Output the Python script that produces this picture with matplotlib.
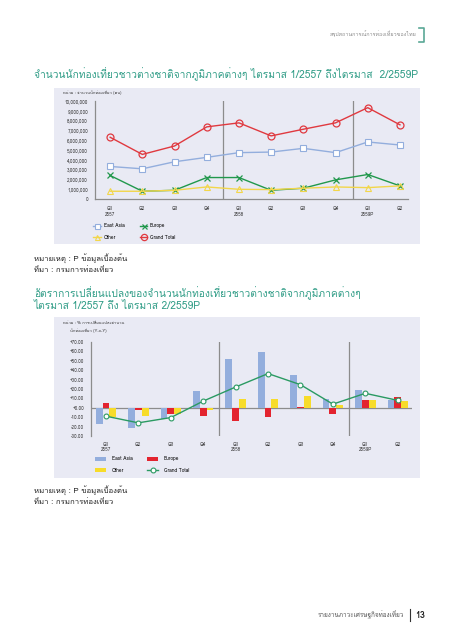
import numpy as np
import matplotlib
matplotlib.use("Agg")
import matplotlib.pyplot as plt
from matplotlib import font_manager as fm
from matplotlib.ft2font import FT2Font
from matplotlib.lines import Line2D
from matplotlib.patches import Rectangle, Patch

# ---------------- data ----------------
quarters = ["Q1\n2557", "Q2", "Q3", "Q4", "Q1\n2558", "Q2", "Q3", "Q4", "Q1\n2559P", "Q2"]
series_names = ["East Asia", "Europe", "Other", "Grand Total"]

# Chart 1: number of foreign tourists (persons)
east_asia = [3320000, 3080000, 3800000, 4250000, 4730000, 4790000, 5170000, 4730000, 5820000, 5510000]
europe = [2400000, 790000, 890000, 2190000, 2190000, 890000, 1100000, 1950000, 2500000, 1340000]
other = [790000, 790000, 890000, 1230000, 990000, 960000, 1100000, 1230000, 1160000, 1340000]
grand_total = [6300000, 4550000, 5410000, 7360000, 7770000, 6440000, 7120000, 7770000, 9320000, 7570000]
y1_ticks = [0, 1000000, 2000000, 3000000, 4000000, 5000000, 6000000, 7000000, 8000000, 9000000, 10000000]

# Chart 2: % change Y-o-Y
ea_pct = [-17.1, -21.4, -11.8, 17.9, 51.8, 59.3, 34.6, 9.3, 18.9, 8.6]
eu_pct = [5.0, -2.5, -6.8, -8.2, -13.9, -9.3, 1.1, -7.1, 8.6, 11.1]
ot_pct = [-10.0, -8.9, -6.4, -2.1, 9.6, 8.9, 12.1, 2.5, 8.6, 6.8]
gt_pct = [-8.9, -16.0, -10.4, 7.1, 22.1, 36.4, 24.6, 3.9, 15.4, 7.9]
y2_ticks = [70, 60, 50, 40, 30, 20, 10, 0, -10, -20, -30]

title1 = "จำนวนนักท่องเที่ยวชาวต่างชาติจากภูมิภาคต่างๆ ไตรมาส 1/2557 ถึงไตรมาส  2/2559P"
title2a = "อัตราการเปลี่ยนแปลงของจำนวนนักท่องเที่ยวชาวต่างชาติจากภูมิภาคต่างๆ"
title2b = "ไตรมาส 1/2557 ถึง ไตรมาส 2/2559P"
unit1 = "หน่วย : จำนวนนักท่องเที่ยว (คน)"
unit2a = "หน่วย : % การเปลี่ยนแปลงจำนวน"
unit2b = "นักท่องเที่ยว (Y-o-Y)"
note1 = "หมายเหตุ : P ข้อมูลเบื้องต้น"
note2 = "ที่มา : กรมการท่องเที่ยว"
header = "สรุปสถานการณ์การท่องเที่ยวของไทย"
footer = "รายงานภาวะเศรษฐกิจท่องเที่ยว"
page_no = "13"

# ---------------- fonts ----------------
def thai_families():
    found = []
    for f in fm.fontManager.ttflist:
        try:
            cmap = FT2Font(f.fname).get_charmap()
        except Exception:
            continue
        if 0x0E01 in cmap and f.name not in found:
            found.append(f.name)
    return found

fams = thai_families() + ["DejaVu Sans"]
plt.rcParams["font.family"] = fams

# ---------------- colors ----------------
PANEL = "#e9eaf4"
TEAL = "#2f9c86"
C_EA = "#93aedd"
C_EU = "#e3242f"
C_OT = "#f7dc2a"
C_GT2 = "#2a9a62"
C_GT1 = "#e0393f"
C_EU1 = "#21984c"
C_OT1 = "#f2d64a"
GRID = "#8c8c8c"

W, H = 453, 640
fig = plt.figure(figsize=(W / 100, H / 100), dpi=100)
fig.patch.set_facecolor("white")

def fx(x):
    return x / W

def fy(y):
    return 1 - y / H

def ax_rect(l, t, r, b):
    return [fx(l), fy(b), (r - l) / W, (b - t) / H]

# panels
fig.add_artist(Rectangle((fx(54), fy(244)), (420 - 54) / W, (244 - 88) / H,
                         transform=fig.transFigure, facecolor=PANEL, edgecolor="none", zorder=0))
fig.add_artist(Rectangle((fx(54), fy(478)), (420 - 54) / W, (478 - 317) / H,
                         transform=fig.transFigure, facecolor=PANEL, edgecolor="none", zorder=0))

# header / footer
fig.text(fx(416), fy(34), header, ha="right", va="center", fontsize=3.9, color="#8a8a8a")
fig.add_artist(Line2D([fx(419), fx(424), fx(424), fx(419)], [fy(28), fy(28), fy(42), fy(42)],
                      transform=fig.transFigure, color="#5aa896", lw=1.2))
fig.text(fx(404), fy(615), footer, ha="right", va="center", fontsize=4.6, color="#555555")
fig.add_artist(Line2D([fx(410), fx(410)], [fy(609), fy(621)], transform=fig.transFigure,
                      color="#333333", lw=0.8))
fig.text(fx(415), fy(615), page_no, ha="left", va="center", fontsize=6.5, fontweight="bold",
         color="#222222")

# titles
fig.text(fx(34), fy(74), title1, ha="left", va="center", fontsize=7.4, color=TEAL)
fig.text(fx(34), fy(293), title2a, ha="left", va="center", fontsize=7.4, color=TEAL)
fig.text(fx(34), fy(306), title2b, ha="left", va="center", fontsize=7.4, color=TEAL)

# units
fig.text(fx(63), fy(93), unit1, ha="left", va="center", fontsize=3.0, color="#333333")
fig.text(fx(63), fy(323), unit2a, ha="left", va="center", fontsize=3.0, color="#333333")
fig.text(fx(70), fy(331), unit2b, ha="left", va="center", fontsize=3.0, color="#333333")

# notes
for y0 in (258, 490):
    fig.text(fx(34), fy(y0), note1, ha="left", va="center", fontsize=5.6, color="#222222")
    fig.text(fx(34), fy(y0 + 12), note2, ha="left", va="center", fontsize=5.6, color="#222222")

x = np.arange(len(quarters))

# ---------------- chart 1 ----------------
ax1 = fig.add_axes(ax_rect(95, 101, 408, 199))
ax1.set_facecolor("none")
l_ea, = ax1.plot(x, east_asia, color=C_EA, lw=1.0, marker="s", ms=4, mfc="white", mec=C_EA,
                 mew=0.8, label=series_names[0])
l_eu, = ax1.plot(x, europe, color=C_EU1, lw=1.0, marker="x", ms=4, mec=C_EU1, mew=0.9,
                 label=series_names[1])
l_ot, = ax1.plot(x, other, color=C_OT1, lw=1.0, marker="^", ms=4, mfc="none", mec=C_OT1,
                 mew=0.8, label=series_names[2])
l_gt, = ax1.plot(x, grand_total, color=C_GT1, lw=1.0, marker="o", ms=5, mfc="none", mec=C_GT1,
                 mew=0.9, label=series_names[3])
for xv in (3.5, 7.55):
    ax1.axvline(xv, color=GRID, lw=0.9, zorder=0)
ax1.set_xlim(-0.47, 9.25)
ax1.set_ylim(0, 10000000)
ax1.set_yticks(y1_ticks)
ax1.set_yticklabels(["{:,}".format(v) if v else "0" for v in y1_ticks])
ax1.set_xticks(x)
ax1.set_xticklabels(quarters)
ax1.tick_params(axis="both", length=0, labelsize=3.3, colors="#333333")
ax1.tick_params(axis="x", pad=5)
ax1.tick_params(axis="y", pad=5)
for s in ("top", "right"):
    ax1.spines[s].set_visible(False)
for s in ("left", "bottom"):
    ax1.spines[s].set_color(GRID)
    ax1.spines[s].set_linewidth(0.9)
leg1 = ax1.legend(handles=[l_ea, l_ot, l_eu, l_gt], ncol=2, loc="upper left",
                  bbox_to_anchor=(fx(89), fy(219)), bbox_transform=fig.transFigure,
                  frameon=False, fontsize=3.5, handlelength=1.5, columnspacing=3.2,
                  labelspacing=1.3, handletextpad=0.6, markerscale=0.9)

# ---------------- chart 2 ----------------
ax2 = fig.add_axes(ax_rect(91, 342, 412, 436))
ax2.set_facecolor("none")
bw = 0.21
b_ea = ax2.bar(x - bw, ea_pct, bw, color=C_EA, label=series_names[0], zorder=2)
b_eu = ax2.bar(x, eu_pct, bw, color=C_EU, label=series_names[1], zorder=2)
b_ot = ax2.bar(x + bw, ot_pct, bw, color=C_OT, label=series_names[2], zorder=2)
l_gt2, = ax2.plot(x, gt_pct, color=C_GT2, lw=1.0, marker="o", ms=3.5, mfc="white", mec=C_GT2,
                  mew=0.8, label=series_names[3], zorder=3)
ax2.axhline(0, color=GRID, lw=0.9, zorder=1)
for xv in (3.5, 7.5):
    ax2.axvline(xv, color=GRID, lw=0.9, zorder=0)
ax2.set_xlim(-0.46, 9.44)
ax2.set_ylim(-30, 70)
ax2.set_yticks(y2_ticks)
ax2.set_yticklabels(["{:+.2f}".format(v) if v != 0 else "+0.00" for v in y2_ticks])
ax2.set_xticks(x)
ax2.set_xticklabels(quarters)
ax2.tick_params(axis="both", length=0, labelsize=3.3, colors="#333333")
ax2.tick_params(axis="y", pad=5)
ax2.tick_params(axis="x", pad=4)
for s in ("top", "right", "bottom"):
    ax2.spines[s].set_visible(False)
ax2.spines["left"].set_color(GRID)
ax2.spines["left"].set_linewidth(0.9)
h_ea = Patch(facecolor=C_EA, label=series_names[0])
h_eu = Patch(facecolor=C_EU, label=series_names[1])
h_ot = Patch(facecolor=C_OT, label=series_names[2])
leg2 = ax2.legend(handles=[h_ea, h_ot, h_eu, l_gt2], ncol=2, loc="upper left",
                  bbox_to_anchor=(fx(91), fy(452)), bbox_transform=fig.transFigure,
                  frameon=False, fontsize=3.5, handlelength=2.2, handleheight=0.9,
                  columnspacing=3.0, labelspacing=1.3, handletextpad=1.2)

fig.savefig("out.png", dpi=100, facecolor="white")
